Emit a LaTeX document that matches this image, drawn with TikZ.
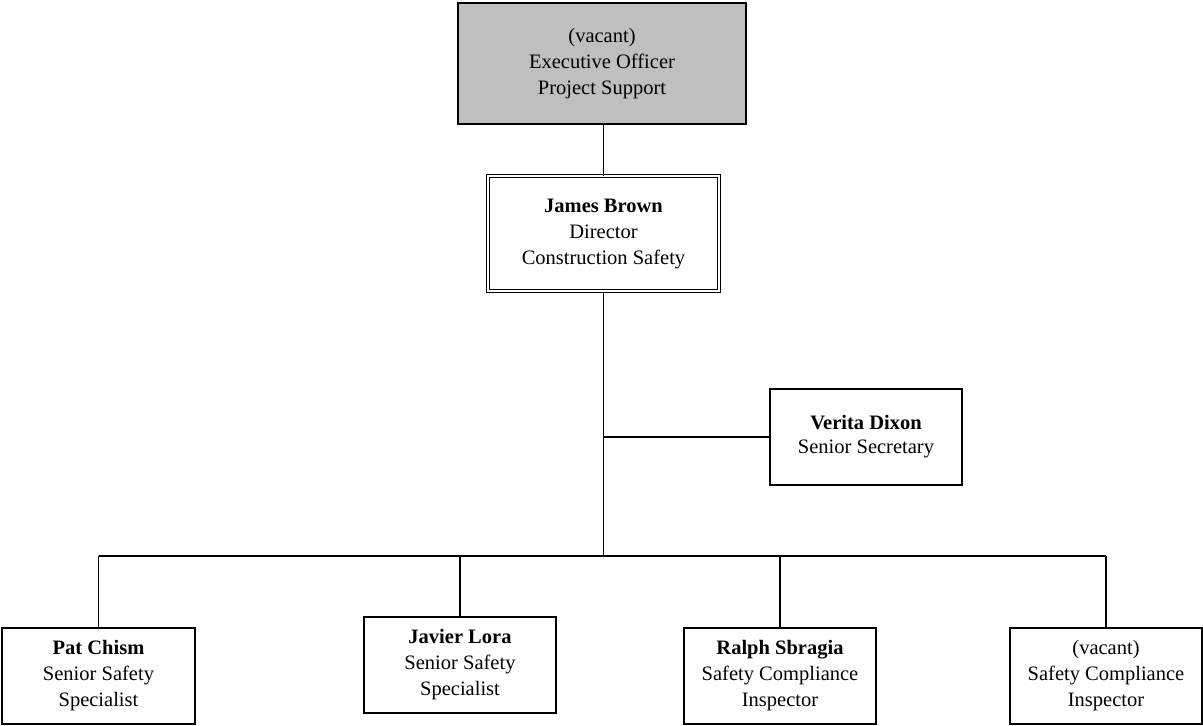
\documentclass[tikz,border=0pt]{standalone}
\usepackage{fontspec}
\setmainfont{Liberation Serif}
\begin{document}
\begin{tikzpicture}[x=1pt,y=-1pt,
  box/.style={draw, line width=1.3pt, rectangle, align=center, inner sep=0pt,
    minimum width=192pt, minimum height=96pt, font=\fontsize{20.5}{26}\selectfont},
  conn/.style={line width=1.3pt}]
\useasboundingbox (0,0) rectangle (1203,726);
\node[box, fill=gray!50, minimum width=288pt, minimum height=121pt] (exec) at (602,63.5)
  {(vacant)\\Executive Officer\\Project Support};
\node[box, double, double distance=2pt, line width=1pt, minimum width=231pt, minimum height=115pt] (brown) at (603.5,233.5)
  {\textbf{James Brown}\\Director\\Construction Safety};
\node[box, font=\fontsize{20.5}{24}\selectfont] (dixon) at (866,437) {\textbf{Verita Dixon}\\Senior Secretary};
\node[box, minimum width=193pt] (pat) at (98.5,676) {\textbf{Pat Chism}\\Senior Safety\\Specialist};
\node[box] (javier) at (460,665) {\textbf{Javier Lora}\\Senior Safety\\Specialist};
\node[box] (ralph) at (780,676) {\textbf{Ralph Sbragia}\\Safety Compliance\\Inspector};
\node[box] (vac) at (1106,676) {(vacant)\\Safety Compliance\\Inspector};
\coordinate (bus) at (604,556);
\draw[line width=1pt] (brown.north) -- (brown.north |- exec.south);
\draw[conn] (brown.south) -- (brown.south |- bus);
\draw[conn] (brown.south |- dixon.west) -- (dixon.west);
\draw[conn] (pat.north |- bus) -- (vac.north |- bus);
\foreach \n in {pat,javier,ralph,vac}
  \draw[conn] (\n.north) -- (\n.north |- bus);
\end{tikzpicture}
\end{document}
